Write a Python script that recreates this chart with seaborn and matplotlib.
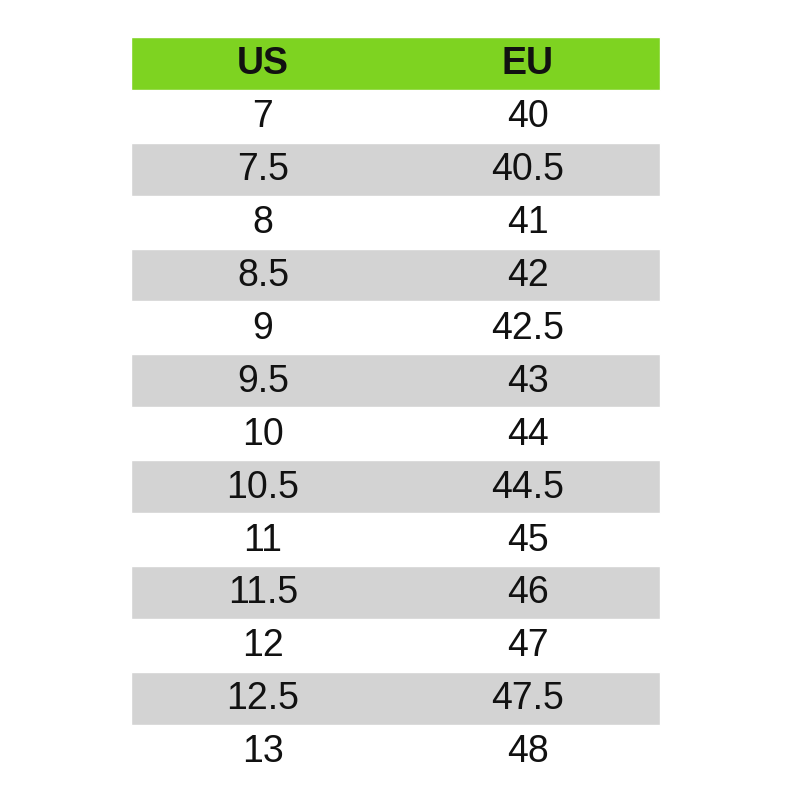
import matplotlib
matplotlib.use("Agg")
import matplotlib.pyplot as plt
import seaborn as sns

# shoe size conversion table
headers = ["US", "EU"]
us_sizes = ["7", "7.5", "8", "8.5", "9", "9.5", "10", "10.5", "11", "11.5", "12", "12.5", "13"]
eu_sizes = ["40", "40.5", "41", "42", "42.5", "43", "44", "44.5", "45", "46", "47", "47.5", "48"]

sns.set_theme(style="white")
plt.rcParams['font.family'] = ['Liberation Sans', 'DejaVu Sans']

fig = plt.figure(figsize=(8, 8), dpi=100)
ax = fig.add_axes([0, 0, 1, 1])
ax.set_xlim(0, 800)
ax.set_ylim(800, 0)
ax.axis("off")

left, right = 131, 660
top, row_h = 37, 52.9
col_x = [263, 528]

# header band
ax.barh(top + row_h / 2, right - left, height=row_h, left=left, color="#7ed321")
for x, h in zip(col_x, headers):
    ax.text(x, top + row_h / 2 + 1, h, ha="center", va="center",
            fontsize=27, fontweight="bold", color="#111111")

# body rows, grey band on every second one
for i, (us, eu) in enumerate(zip(us_sizes, eu_sizes)):
    yc = top + row_h * (i + 1.5)
    if i % 2 == 1:
        ax.barh(yc, right - left, height=row_h, left=left, color="#d3d3d3")
    ax.text(col_x[0], yc + 1, us, ha="center", va="center", fontsize=27, color="#111111")
    ax.text(col_x[1], yc + 1, eu, ha="center", va="center", fontsize=27, color="#111111")

fig.savefig("out.png", dpi=100, facecolor="white")
